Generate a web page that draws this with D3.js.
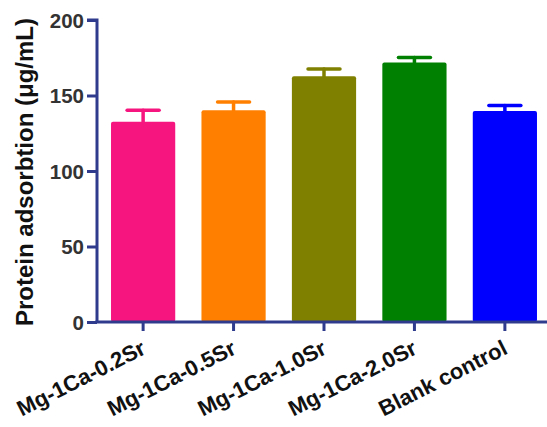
<!DOCTYPE html>
<html>
<head>
<meta charset="utf-8">
<script src="https://cdn.jsdelivr.net/npm/d3@7"></script>
<style>
  body { margin: 0; background: #fff; }
  text { font-family: Arial, "Liberation Sans", sans-serif; font-weight: bold; }
</style>
</head>
<body>
<div id="chart"></div>
<script>
// data
var groups = ["Mg-1Ca-0.2Sr", "Mg-1Ca-0.5Sr", "Mg-1Ca-1.0Sr", "Mg-1Ca-2.0Sr", "Blank control"];
var means = [132.6, 140.2, 162.8, 171.8, 139.7];
var errors = [7.7, 5.5, 4.8, 3.3, 3.6];
var colors = ["#f6157f", "#ff8000", "#808000", "#008000", "#0000ff"];
var yTicks = [0, 50, 100, 150, 200];

var svgWidth = 547;
var svgHeight = 427;
var margin = { top: 20, right: -4, bottom: 105, left: 97 };
var width = svgWidth - margin.left - margin.right;
var height = svgHeight - margin.top - margin.bottom;
var axisColor = "#2f3b8c";

var svg = d3.select("#chart")
  .append("svg")
  .attr("width", svgWidth)
  .attr("height", svgHeight);

var chartGroup = svg.append("g")
  .attr("transform", `translate(${margin.left}, ${margin.top})`);

var x = d3.scaleBand().domain(groups).range([0, width]).paddingInner(0.29).paddingOuter(0.155);
var y = d3.scaleLinear().domain([0, 200]).range([height, 0]);

// bars
chartGroup.selectAll("rect.bar")
  .data(groups)
  .enter()
  .append("rect")
  .attr("class", "bar")
  .attr("x", d => x(d))
  .attr("y", (d, i) => y(means[i]))
  .attr("width", x.bandwidth())
  .attr("height", (d, i) => height - y(means[i]))
  .attr("rx", 2)
  .attr("fill", (d, i) => colors[i]);

// error bars (upper only)
var errG = chartGroup.selectAll("g.err")
  .data(groups)
  .enter()
  .append("g")
  .attr("class", "err")
  .attr("stroke", (d, i) => colors[i])
  .attr("stroke-width", 3.5)
  .attr("stroke-linecap", "round");

errG.append("line")
  .attr("x1", d => x(d) + x.bandwidth() / 2)
  .attr("x2", d => x(d) + x.bandwidth() / 2)
  .attr("y1", (d, i) => y(means[i]) + 1)
  .attr("y2", (d, i) => y(means[i] + errors[i]));

errG.append("line")
  .attr("x1", d => x(d) + x.bandwidth() / 2 - 16)
  .attr("x2", d => x(d) + x.bandwidth() / 2 + 16)
  .attr("y1", (d, i) => y(means[i] + errors[i]))
  .attr("y2", (d, i) => y(means[i] + errors[i]));

// y axis
var leftAxis = d3.axisLeft(y).tickValues(yTicks).tickSize(10).tickPadding(3);
var yAxis = chartGroup.append("g").call(leftAxis);
yAxis.select(".domain").attr("stroke", axisColor).attr("stroke-width", 3).attr("d", `M0,${height + 1}V0H-10`);
yAxis.selectAll(".tick line").attr("stroke", axisColor).attr("stroke-width", 3);
yAxis.selectAll(".tick text")
  .attr("fill", "#333")
  .style("font-size", "20.5px")
  .attr("dy", "0.36em");

// x axis
var bottomAxis = d3.axisBottom(x).tickSize(9).tickPadding(4);
var xAxis = chartGroup.append("g")
  .attr("transform", `translate(0, ${height})`)
  .call(bottomAxis);
xAxis.select(".domain").attr("stroke", axisColor).attr("stroke-width", 3).attr("d", `M-1.5,0H${width}`);
xAxis.selectAll(".tick line").attr("stroke", axisColor).attr("stroke-width", 3);
xAxis.selectAll(".tick text")
  .attr("fill", "#111")
  .style("font-size", "22px")
  .attr("text-anchor", "end")
  .attr("dy", null)
  .attr("y", 0)
  .attr("transform", "translate(4, 31) rotate(-27)");

// y label
chartGroup.append("text")
  .attr("transform", "rotate(-90)")
  .attr("x", 0 - 152)
  .attr("y", 0 - margin.left + 33)
  .attr("text-anchor", "middle")
  .attr("fill", "#111")
  .style("font-size", "24px")
  .text("Protein adsorbtion (\u03bcg/mL)");
</script>
</body>
</html>
